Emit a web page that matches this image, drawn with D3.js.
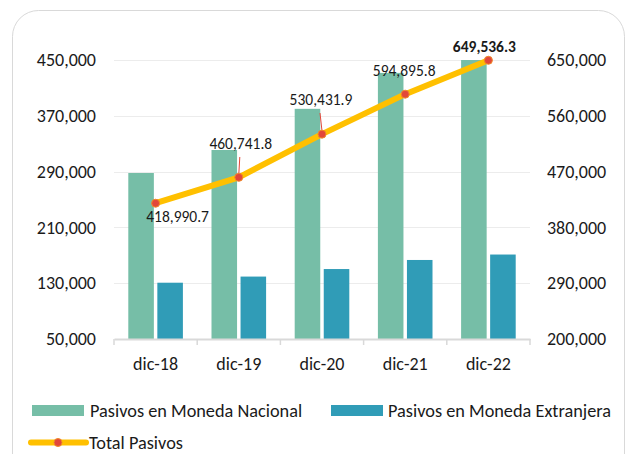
<!DOCTYPE html>
<html>
<head>
<meta charset="utf-8">
<script src="https://cdn.jsdelivr.net/npm/d3@7"></script>
<style>
  body { margin: 0; background: #fff; }
  text { font-family: Calibri, Carlito, Lato, sans-serif; fill: #1a1a1a; }
</style>
</head>
<body>
<div id="chart"></div>
<script>
// data
let categories = ["dic-18", "dic-19", "dic-20", "dic-21", "dic-22"];
let nacional = [288000, 321000, 380000, 431500, 478400];
let extranjera = [130700, 139500, 150300, 163300, 171100];
let total = [418990.7, 460741.8, 530431.9, 594895.8, 649536.3];
let leftTicks = [50000, 130000, 210000, 290000, 370000, 450000];
let rightTicks = [200000, 290000, 380000, 470000, 560000, 650000];

let svgWidth = 627;
let svgHeight = 454;
let margin = { top: 60, right: 97, bottom: 115, left: 114 };
let width = svgWidth - margin.left - margin.right;
let height = svgHeight - margin.top - margin.bottom;

let green = "#76bea7";
let blue = "#309cb7";
let yellow = "#ffc000";
let red = "#e2473a";
let fmt = d3.format(",");
let axisFont = "18px";

let svg = d3.select("#chart")
    .append("svg")
    .attr("width", svgWidth)
    .attr("height", svgHeight);

// rounded frame
svg.append("rect")
    .attr("x", 12.5).attr("y", 10.5)
    .attr("width", 612).attr("height", 470)
    .attr("rx", 26)
    .attr("fill", "#fff")
    .attr("stroke", "#d9d9d9");

let chartGroup = svg.append("g")
    .attr("transform", `translate(${margin.left}, ${margin.top})`);

let x0 = d3.scaleBand().domain(categories).range([0, width]);
let x1 = d3.scaleBand().domain(["nac", "ext"]).range([14.3, x0.bandwidth() - 14.3]).paddingInner(0.12);
let yLeft = d3.scaleLinear().domain([50000, 450000]).range([height, 0]);
let yRight = d3.scaleLinear().domain([200000, 650000]).range([height, 0]);

// gridlines
chartGroup.append("g")
    .selectAll("line")
    .data(leftTicks.slice(1))
    .enter()
    .append("line")
    .attr("x1", 0).attr("x2", width)
    .attr("y1", d => Math.round(yLeft(d)) + 0.5)
    .attr("y2", d => Math.round(yLeft(d)) + 0.5)
    .attr("stroke", "#ececec");

// left axis
let leftAxis = d3.axisLeft(yLeft).tickValues(leftTicks).tickFormat(fmt).tickSize(0).tickPadding(18);
chartGroup.append("g").call(leftAxis)
    .call(g => g.select(".domain").remove())
    .selectAll("text").attr("font-size", axisFont).attr("fill", "#1a1a1a");

// right axis
let rightAxis = d3.axisRight(yRight).tickValues(rightTicks).tickFormat(fmt).tickSize(0).tickPadding(17);
chartGroup.append("g")
    .attr("transform", `translate(${width}, 0)`)
    .call(rightAxis)
    .call(g => g.select(".domain").remove())
    .selectAll("text").attr("font-size", axisFont).attr("fill", "#1a1a1a");

// bars, clipped to the plot
svg.append("clipPath").attr("id", "plotClip")
    .append("rect").attr("x", 0).attr("y", 0).attr("width", width).attr("height", height);

let barRows = categories.map((c, i) => ({ cat: c, nac: nacional[i], ext: extranjera[i] }));
let barGroups = chartGroup.append("g")
    .attr("clip-path", "url(#plotClip)")
    .selectAll("g")
    .data(barRows)
    .enter()
    .append("g")
    .attr("transform", d => `translate(${x0(d.cat)}, 0)`);

barGroups.selectAll("rect")
    .data(d => [{ key: "nac", value: d.nac }, { key: "ext", value: d.ext }])
    .enter()
    .append("rect")
    .attr("x", d => x1(d.key))
    .attr("width", x1.bandwidth())
    .attr("y", d => yLeft(d.value))
    .attr("height", d => height - yLeft(d.value))
    .attr("fill", d => d.key === "nac" ? green : blue);

// x axis
let bottomAxis = d3.axisBottom(x0).tickSize(0).tickPadding(18);
let xAxis = chartGroup.append("g")
    .attr("transform", `translate(0, ${height})`)
    .call(bottomAxis);
xAxis.select(".domain").attr("stroke", "#d9d9d9").attr("stroke-width", 2);
xAxis.selectAll("text").attr("font-size", axisFont).attr("fill", "#1a1a1a");
xAxis.append("g").selectAll("line")
    .data(d3.range(categories.length + 1))
    .enter()
    .append("line")
    .attr("x1", i => i * x0.bandwidth()).attr("x2", i => i * x0.bandwidth())
    .attr("y1", 0).attr("y2", 6)
    .attr("stroke", "#d9d9d9").attr("stroke-width", 1.5);

// total line
let linePts = categories.map((c, i) => ({ cat: c, value: total[i] }));
let line = d3.line()
    .x(d => x0(d.cat) + x0.bandwidth() / 2)
    .y(d => yRight(d.value));

// leader lines for labels
let leaders = [
    { i: 1, dx: 1, y0: 157 },
    { i: 2, dx: -2, y0: 113 }
];
chartGroup.selectAll(".leader")
    .data(leaders)
    .enter()
    .append("line")
    .attr("x1", d => x0(categories[d.i]) + x0.bandwidth() / 2 + d.dx)
    .attr("y1", d => d.y0 - margin.top)
    .attr("x2", d => x0(categories[d.i]) + x0.bandwidth() / 2)
    .attr("y2", d => yRight(total[d.i]) - 3)
    .attr("stroke", red).attr("stroke-width", 1);

chartGroup.append("path")
    .datum(linePts)
    .attr("d", line)
    .attr("fill", "none")
    .attr("stroke", yellow)
    .attr("stroke-width", 6)
    .attr("stroke-linejoin", "round");

chartGroup.selectAll(".marker")
    .data(linePts)
    .enter()
    .append("circle")
    .attr("cx", d => x0(d.cat) + x0.bandwidth() / 2)
    .attr("cy", d => yRight(d.value))
    .attr("r", 4)
    .attr("fill", red)
    .attr("stroke", "#f08a2a")
    .attr("stroke-width", 1);

// data labels (offset from the point, as in the picture)
let labelOffsets = [
    { dx: 22, dy: 19 },
    { dx: 2, dy: -28 },
    { dx: -1, dy: -29 },
    { dx: -1, dy: -18 },
    { dx: -4, dy: -8 }
];
chartGroup.selectAll(".dlabel")
    .data(linePts)
    .enter()
    .append("text")
    .attr("x", (d, i) => x0(d.cat) + x0.bandwidth() / 2 + labelOffsets[i].dx)
    .attr("y", (d, i) => yRight(d.value) + labelOffsets[i].dy)
    .attr("text-anchor", "middle")
    .attr("font-size", "15.5px")
    .attr("font-weight", (d, i) => i === linePts.length - 1 ? "bold" : "normal")
    .text(d => d3.format(",.1f")(d.value));

// legend
let legendFont = "18.3px";
let legend = svg.append("g");
legend.append("rect").attr("x", 32).attr("y", 405).attr("width", 52).attr("height", 11).attr("fill", green);
legend.append("text").attr("x", 90).attr("y", 417).attr("font-size", legendFont).text("Pasivos en Moneda Nacional");
legend.append("rect").attr("x", 331).attr("y", 405).attr("width", 52).attr("height", 11).attr("fill", blue);
legend.append("text").attr("x", 388).attr("y", 417).attr("font-size", legendFont).text("Pasivos en Moneda Extranjera");
legend.append("line").attr("x1", 31).attr("x2", 86).attr("y1", 442.5).attr("y2", 442.5)
    .attr("stroke", yellow).attr("stroke-width", 6).attr("stroke-linecap", "round");
legend.append("circle").attr("cx", 58).attr("cy", 442.5).attr("r", 4)
    .attr("fill", red).attr("stroke", "#f08a2a").attr("stroke-width", 1);
legend.append("text").attr("x", 89).attr("y", 448.5).attr("font-size", legendFont).text("Total Pasivos");
</script>
</body>
</html>
